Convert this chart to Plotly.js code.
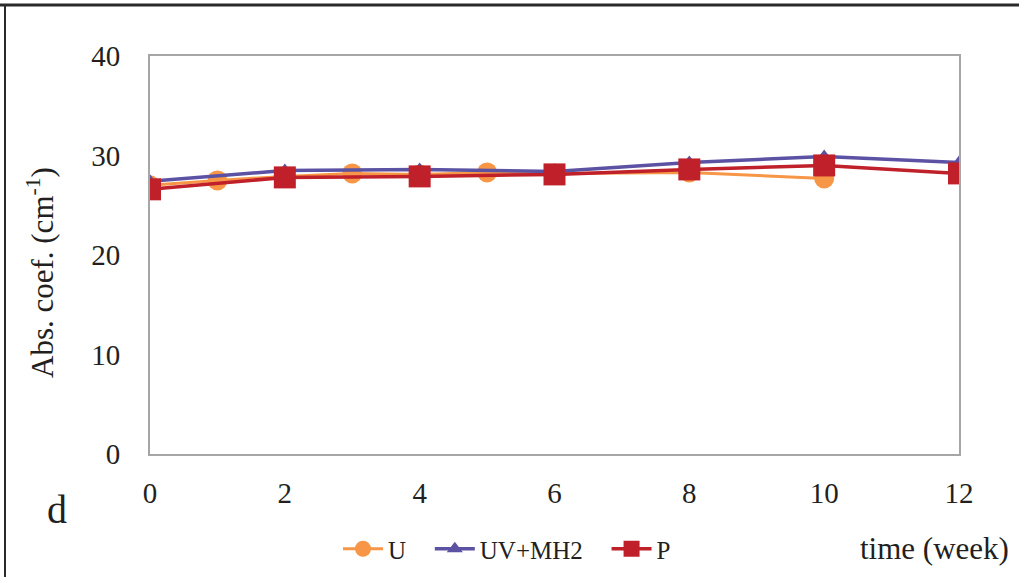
<!DOCTYPE html>
<html>
<head>
<meta charset="utf-8">
<script src="https://cdn.plot.ly/plotly-3.0.1.min.js"></script>
<style>
html,body{margin:0;padding:0;background:#fff;}
#chart{width:1019px;height:577px;}
</style>
</head>
<body>
<div id="chart"></div>
<script>
// Data
const weeksU = [0, 1, 2, 3, 4, 5, 6, 8, 10];
const valuesU = [27.0, 27.5, 27.9, 28.2, 28.1, 28.3, 28.2, 28.3, 27.7];
const weeksUV = [0, 2, 4, 6, 8, 10, 12];
const valuesUV = [27.4, 28.5, 28.6, 28.4, 29.3, 29.9, 29.3];
const weeksP = [0, 2, 4, 6, 8, 10, 12];
const valuesP = [26.6, 27.8, 27.9, 28.1, 28.6, 29.0, 28.2];
const seriesNames = ["U", "UV+MH2", "P"];
const xTicks = [0, 2, 4, 6, 8, 10, 12];
const yTicks = [0, 10, 20, 30, 40];

const serif = "Liberation Serif, Times New Roman, serif";
const ink = "#231f20";
const pad = "\u00a0\u00a0\u00a0";

const traces = [
  {x: weeksU, y: valuesU, name: seriesNames[0] + pad, type: "scatter", mode: "lines+markers",
   line: {color: "#f79646", width: 3},
   marker: {symbol: "circle", size: 20, color: "#f79646"}},
  {x: weeksUV, y: valuesUV, name: seriesNames[1] + pad, type: "scatter", mode: "lines+markers",
   line: {color: "#5b52a3", width: 3.5},
   marker: {symbol: "triangle-up", size: 14, color: "#5b52a3"}},
  {x: weeksP, y: valuesP, name: seriesNames[2], type: "scatter", mode: "lines+markers",
   line: {color: "#c0202a", width: 3.5},
   marker: {symbol: "square", size: 22, color: "#c0202a"}}
];

const L = 150, R = 60, T = 56, B = 123, W = 1019, H = 577;
const pw = W - L - R, ph = H - T - B;
const px = v => (v - L) / pw;
const py = v => (H - B - v) / ph;

const layout = {
  width: W, height: H,
  margin: {l: L, r: R, t: T, b: B, pad: 0, autoexpand: false},
  paper_bgcolor: "#ffffff",
  plot_bgcolor: "#ffffff",
  showlegend: true,
  font: {family: serif, size: 28, color: ink},
  xaxis: {
    range: [0, 12], tickvals: xTicks, ticktext: xTicks.map(String),
    showgrid: false, zeroline: false, showline: true, mirror: true,
    linecolor: "#a6a6a6", linewidth: 2, ticks: "",
    ticklabelstandoff: 12, tickfont: {family: serif, size: 29, color: ink},
    fixedrange: true
  },
  yaxis: {
    range: [0, 40], tickvals: yTicks, ticktext: yTicks.map(String),
    showgrid: false, zeroline: false, showline: true, mirror: true,
    linecolor: "#a6a6a6", linewidth: 2, ticks: "",
    ticklabelstandoff: 22, tickfont: {family: serif, size: 29, color: ink},
    fixedrange: true
  },
  legend: {
    orientation: "h", x: px(338), y: py(549), xanchor: "left", yanchor: "middle",
    font: {family: serif, size: 25, color: ink},
    bgcolor: "rgba(0,0,0,0)", itemwidth: 40, tracegroupgap: 0
  },
  annotations: [
    {text: "Abs. coef. (cm<sup>-1</sup>)", textangle: -90, xref: "paper", yref: "paper",
     x: px(40), y: py(272), xanchor: "center", yanchor: "middle", showarrow: false,
     font: {family: serif, size: 31, color: ink}},
    {text: "time (week)", xref: "paper", yref: "paper",
     x: px(934), y: py(548), xanchor: "center", yanchor: "middle", showarrow: false,
     font: {family: serif, size: 31, color: ink}},
    {text: "d", xref: "paper", yref: "paper",
     x: px(57), y: py(509), xanchor: "center", yanchor: "middle", showarrow: false,
     font: {family: serif, size: 40, color: ink}}
  ],
  shapes: [
    {type: "line", xref: "paper", yref: "paper", x0: px(0), x1: px(1019), y0: py(5), y1: py(5),
     line: {color: "#2a2a2a", width: 3}},
    {type: "line", xref: "paper", yref: "paper", x0: px(5), x1: px(5), y0: py(4), y1: py(577),
     line: {color: "#2a2a2a", width: 2}}
  ]
};

Plotly.newPlot("chart", traces, layout, {displayModeBar: false, staticPlot: true});
</script>
</body>
</html>
